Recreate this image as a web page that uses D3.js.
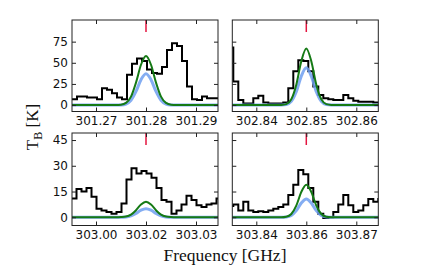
<!DOCTYPE html>
<html><head><meta charset="utf-8">
<script src="https://cdn.jsdelivr.net/npm/d3@7/dist/d3.min.js"></script>
<style>body{margin:0;background:#fff}</style>
</head><body><svg id="c" width="437" height="273"></svg>
<script>
// ---- data ----
const centers = [301.280, 302.850, 303.015, 303.855];
const xTickLabels = [
  ["301.27","301.28","301.29"],
  ["302.84","302.85","302.86"],
  ["303.00","303.02","303.03"],
  ["303.84","303.86","303.87"]
];
const xTickOffsets = [-0.01, 0, 0.01];
const yTicksTop = [0, 25, 50, 75];
const yTicksBottom = [0, 15, 30, 45];
const chanWidth = 0.001;
const chanStartOffsets = [-0.0148, -0.0156, -0.0149, -0.0156];

const spec1 = [7,10,10,9,9,7,20,18,14,9,7,36,49,55,52,42,38,37,45,65,73,70,52,22,7,6,10,8,8,8];
const spec2 = [68,28,6,2,2,8,11,3,2,2,2,3,20,40,53,52,40,22,12,8,7,6,6,12,8,5,4,4,4,3,3];
const spec3 = [11,16.5,15,17,12,5,4,3,2,3,8,22,28.5,25.5,27,25.5,23,17,10,9,2,4,7.5,12.5,10,7,6,7.5,8,11];
const spec4 = [6.6,7.5,4,9,4,3,3.5,3,4,5,6,7.5,13,19,27.5,25,17,9,2,-0.5,0,3,7.5,13,7,3,4,7,10.7,9,10.7];

const modelOffsets = [-0.016,-0.006,-0.005,-0.004,-0.003,-0.002,-0.001,0,0.001,0.002,0.003,0.004,0.005,0.006,0.016];
const green1 = [0,0.05,0.4,2.6,10,26.6,47.7,58,47.7,26.6,10,2.6,0.4,0.05,0];
const blue1  = [0,0,0.2,1.3,5.7,16.1,30,37,30,16.1,5.7,1.3,0.2,0,0];
const green2 = [0,0,0.1,1.1,6.8,24.1,51.9,67,51.9,24.1,6.8,1.1,0.1,0,0];
const blue2  = [0,0,0.1,0.7,4.4,15.8,34.1,44,34.1,15.8,4.4,0.7,0.1,0,0];
const green3 = [0,0,0.1,0.4,1.5,4.1,7.4,9,7.4,4.1,1.5,0.4,0.1,0,0];
const blue3  = [0,0,0,0.2,0.9,2.3,4.1,5,4.1,2.3,0.9,0.2,0,0,0];
const green4 = [0,0,0,0.3,1.9,6.8,14.7,19,14.7,6.8,1.9,0.3,0,0,0];
const blue4  = [0,0,0,0.2,1.1,3.9,8.3,10.7,8.3,3.9,1.1,0.2,0,0,0];

const specs = [spec1, spec2, spec3, spec4];
const greens = [green1, green2, green3, green4];
const blues = [blue1, blue2, blue3, blue4];

// ---- layout ----
const cols = [[72, 218], [232.3, 378.3]];
const rows = [[20, 111.5], [133, 225.5]];
const yDomains = [[-7.6, 100.6], [-4.8, 49.1]];
const yTickSets = [yTicksTop, yTicksBottom];
const xSpan = [-0.0148, 0.0144];

const svg = d3.select("#c");
const font = "DejaVu Sans";

for (let p = 0; p < 4; p++) {
  const ci = p % 2, ri = Math.floor(p / 2);
  const [x0, x1] = cols[ci], [y0, y1] = rows[ri];
  const f0 = centers[p];
  const x = d3.scaleLinear().domain([f0 + xSpan[0], f0 + xSpan[1]]).range([x0, x1]);
  const y = d3.scaleLinear().domain(yDomains[ri]).range([y1, y0]);

  const clipId = "clip" + p;
  svg.append("clipPath").attr("id", clipId).append("rect")
    .attr("x", x0).attr("y", y0).attr("width", x1 - x0).attr("height", y1 - y0);
  const g = svg.append("g").attr("clip-path", `url(#${clipId})`);

  // black step spectrum
  const sp = specs[p];
  const start = f0 + chanStartOffsets[p];
  const pts = sp.map((v, i) => [start + i * chanWidth, v]);
  pts.push([start + sp.length * chanWidth, sp[sp.length - 1]]);
  g.append("path").datum(pts)
    .attr("d", d3.line().x(d => x(d[0])).y(d => y(d[1])).curve(d3.curveStepAfter))
    .attr("fill", "none").attr("stroke", "#000").attr("stroke-width", 2);

  const modelLine = d3.line().x(d => x(f0 + d[0])).y(d => y(d[1])).curve(d3.curveMonotoneX);
  // blue model
  g.append("path").datum(modelOffsets.map((o, i) => [o, blues[p][i]]))
    .attr("d", modelLine).attr("fill", "none")
    .attr("stroke", "#6f9ff0").attr("stroke-width", 3).attr("stroke-opacity", 0.85);
  // green model
  g.append("path").datum(modelOffsets.map((o, i) => [o, greens[p][i]]))
    .attr("d", modelLine).attr("fill", "none")
    .attr("stroke", "#157a15").attr("stroke-width", 2);

  // red line marker
  svg.append("line").attr("x1", x(f0)).attr("x2", x(f0))
    .attr("y1", y0).attr("y2", y0 + 12)
    .attr("stroke", "#e3143f").attr("stroke-width", 1.5);

  const xt = xTickOffsets.map(o => f0 + o);
  const yt = yTickSets[ri];

  const ax = [
    svg.append("g").attr("transform", `translate(0,${y1})`)
      .call(d3.axisBottom(x).tickValues(xt).tickFormat((d, i) => xTickLabels[p][i]).tickSize(-4).tickSizeOuter(0).tickPadding(5)),
    svg.append("g").attr("transform", `translate(0,${y0})`)
      .call(d3.axisTop(x).tickValues(xt).tickFormat("").tickSize(-4).tickSizeOuter(0)),
    svg.append("g").attr("transform", `translate(${x0},0)`)
      .call(d3.axisLeft(y).tickValues(yt).tickFormat(ci === 0 ? d3.format("d") : "").tickSize(-4).tickSizeOuter(0).tickPadding(4)),
    svg.append("g").attr("transform", `translate(${x1},0)`)
      .call(d3.axisRight(y).tickValues(yt).tickFormat("").tickSize(-4).tickSizeOuter(0))
  ];
  ax.forEach(a => {
    a.select(".domain").remove();
    a.selectAll(".tick line").attr("stroke", "#222");
    a.selectAll("text").attr("font-family", font).attr("font-size", "12px").attr("fill", "#111");
  });

  svg.append("rect").attr("x", x0).attr("y", y0).attr("width", x1 - x0).attr("height", y1 - y0)
    .attr("fill", "none").attr("stroke", "#222").attr("stroke-width", 1);
}

// axis titles
svg.append("text").attr("x", 225).attr("y", 261).attr("text-anchor", "middle")
  .attr("font-family", "Liberation Serif").attr("font-size", "17.5px").attr("fill", "#111")
  .text("Frequency [GHz]");

const yl = svg.append("text").attr("transform", "translate(38,127) rotate(-90)")
  .attr("text-anchor", "middle").attr("font-family", "Liberation Serif")
  .attr("font-size", "17px").attr("fill", "#111");
yl.append("tspan").text("T");
yl.append("tspan").attr("font-size", "12px").attr("dy", 4).text("B");
yl.append("tspan").attr("dy", -4).text(" [K]");
</script>
</body></html>
